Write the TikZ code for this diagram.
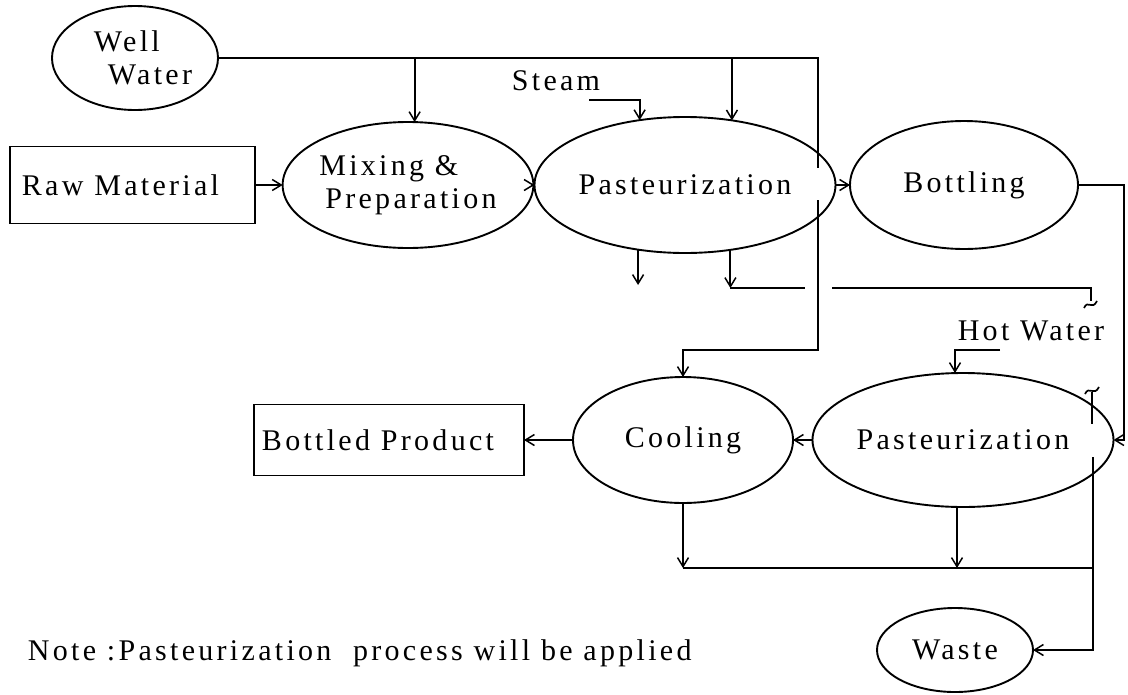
\documentclass[tikz,border=0pt]{standalone}
\usepackage{fontspec}
\setmainfont{Liberation Serif}[LetterSpace=11]
\usetikzlibrary{shapes.geometric,arrows.meta}
\begin{document}
\begin{tikzpicture}[x=1pt,y=-1pt,line width=1.9pt,
  font=\fontsize{30}{33}\selectfont,
  proc/.style={ellipse,draw,inner sep=0pt,outer sep=0pt},
  boxnode/.style={rectangle,draw,inner sep=0pt,outer sep=0pt},
  arr/.style={-{Straight Barb[length=9pt,width=11pt,line width=1.5pt]}},
  lbl/.style={inner sep=0pt}]
\useasboundingbox (0,0) rectangle (1128,694);

% nodes
\node[proc,minimum width=166pt,minimum height=104pt,align=left] (ww) at (135,58) {\hspace*{16pt}Well\\\hspace*{30pt}Water};
\node[boxnode,minimum width=245pt,minimum height=77pt] (raw) at (132.5,185) {Raw Material\hspace*{24pt}};
\node[proc,minimum width=220pt,minimum height=126pt,align=left] (mix) at (408,185) {Mixing \&\\\hspace*{6pt}Preparation};
\node[proc,minimum width=240pt,minimum height=136pt] (p1) at (685,185) {Pasteurization};
\node[proc,minimum width=228pt,minimum height=128pt] (bot) at (964,185) {Bottling};
\node[proc,minimum width=244pt,minimum height=134pt] (p2) at (963,440) {Pasteurization};
\node[proc,minimum width=220pt,minimum height=126pt] (cool) at (683,440) {Cooling};
\node[boxnode,minimum width=270pt,minimum height=71pt] (bp) at (389,440) {Bottled Product\hspace*{22pt}};
\node[proc,minimum width=156pt,minimum height=84pt] (waste) at (955,650) {Waste};
\node[lbl] (steam) at (556,81) {Steam};
\node[lbl] (hot) at (1031,331) {Hot Water};
\node[lbl,anchor=west] (note) at (27,653) {Note :Pasteurization\ \ process will be applied};

% coordinates
\coordinate (tlend) at (818,58);
\coordinate (vgapA) at (818,168);
\coordinate (vgapB) at (818,200);
\coordinate (vcorner) at (818,350);
\coordinate (stA) at (589,100);
\coordinate (rx) at (1124,0);
\coordinate (p1outY) at (0,285);
\coordinate (drainY) at (0,288);
\coordinate (hgapA) at (805,288);
\coordinate (hgapB) at (832,288);
\coordinate (brk1) at (1091,288);
\coordinate (hwA) at (1000,350);
\coordinate (p2n) at ([xshift=-8pt]p2.north);
\coordinate (p2s) at ([xshift=-6pt]p2.south);
\coordinate (botY) at (0,568);
\coordinate (wv) at (1093,457);
\coordinate (wvb) at (1093,568);
\coordinate (brk2) at (1092,392);

% well water line
\draw (ww.east) -- (tlend) -- (vgapA);
\draw[arr] (mix.84.5 |- ww.east) -- (mix.84.5);
\draw[arr] (p1.54.5 |- ww.east) -- (p1.54.5);
\draw[arr] (stA) -- (stA -| p1.125.5) -- (p1.125.5);
\draw[arr] (vgapB) -- (vcorner) -- (vcorner -| cool.north) -- (cool.north);

% main flow
\draw[arr,line width=2.5pt] (raw.east) -- (mix.west);
\draw[arr,line width=2.3pt] (mix.east) -- (p1.west);
\draw[arr,line width=2.3pt] (p1.east) -- (bot.west);
\draw[arr] (bot.east) -- (bot.east -| rx) -- (p2.east -| rx) -- (p2.east);
\draw[arr] (p2.west) -- (cool.east);
\draw[arr] (cool.west) -- (bp.east);

% pasteurization outlets
\draw[arr] (p1.234.5) -- (p1.234.5 |- p1outY);
\draw[arr] (p1.305.5) -- (p1.305.5 |- drainY);
\draw (p1.305.5 |- drainY) -- (hgapA);
\draw (hgapB) -- (brk1) -- ++(0,13);
\draw[line width=1.7pt] (1084,308) .. controls (1088,299) and (1092,311) .. (1097,301);
\draw[line width=1.7pt] (1085,394) .. controls (1089,385) and (1094,397) .. (1099,387);
\draw (brk2) -- ++(0,32);

% hot water
\draw[arr] (hwA) -- (hwA -| p2n) -- (p2n);

% waste
\draw[arr] (cool.south) -- (cool.south |- botY);
\draw[arr] (p2s) -- (p2s |- botY);
\draw (cool.south |- botY) -- (wvb);
\draw[arr] (wv) -- (wv |- waste.east) -- (waste.east);
\end{tikzpicture}
\end{document}
